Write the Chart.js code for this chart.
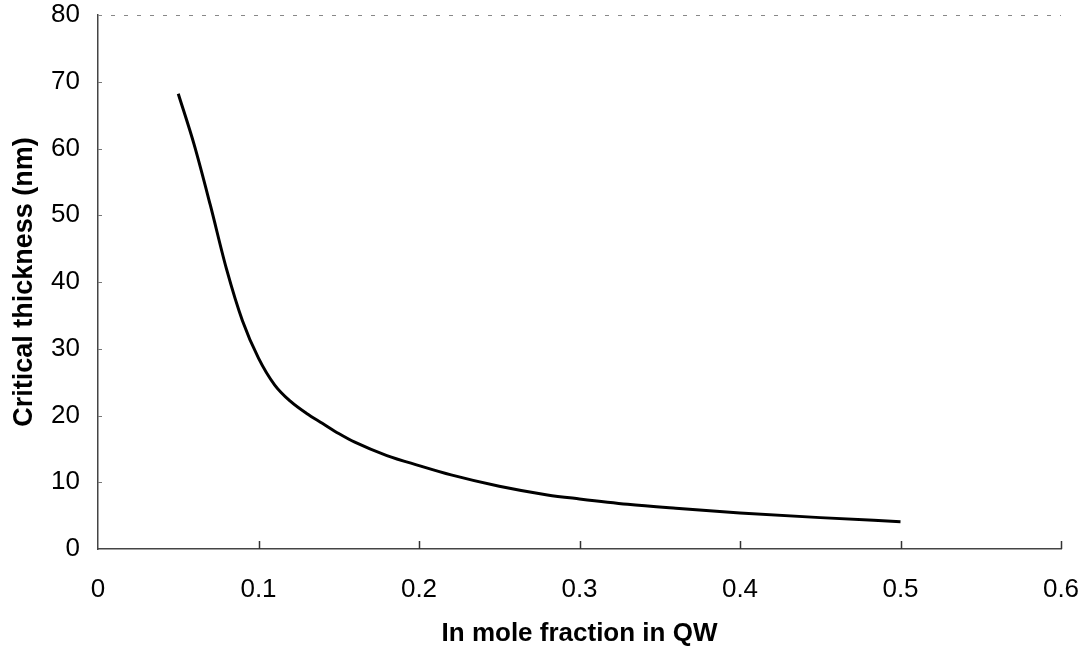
<!DOCTYPE html>
<html>
<head>
<meta charset="utf-8">
<script src="https://cdn.jsdelivr.net/npm/chart.js@4/dist/chart.umd.min.js"></script>
<style>
  html, body { margin: 0; padding: 0; background: #fff; }
  #wrap { width: 1086px; height: 647px; }
</style>
</head>
<body>
<div id="wrap"><canvas id="myChart"></canvas></div>
<script>
// In mole fraction vs critical thickness
const moleFraction = [0.05, 0.06, 0.07, 0.08, 0.09, 0.10, 0.11, 0.12, 0.13, 0.14, 0.15, 0.16, 0.18, 0.20, 0.22, 0.25, 0.28, 0.30, 0.33, 0.36, 0.40, 0.45, 0.50];
const thickness = [68.2, 60.5, 51.5, 42.0, 34.2, 28.6, 24.6, 22.1, 20.3, 18.8, 17.3, 16.0, 14.0, 12.5, 11.1, 9.4, 8.1, 7.5, 6.7, 6.1, 5.4, 4.7, 4.1];
const xTicks = [0, 0.1, 0.2, 0.3, 0.4, 0.5, 0.6];
const yTicks = [0, 10, 20, 30, 40, 50, 60, 70, 80];

const FONT = "'Liberation Sans', Arial, sans-serif";

// inward tick marks + the faint dashed top edge
const frame = {
  id: "frame",
  afterDatasetsDraw(chart) {
    const { ctx, scales, chartArea } = chart;
    const x = scales.x, y = scales.y;
    ctx.save();
    ctx.strokeStyle = "#333";
    ctx.lineWidth = 1.5;
    xTicks.slice(1).forEach((v) => {
      const px = Math.round(x.getPixelForValue(v)) + 0.5;
      ctx.beginPath();
      ctx.moveTo(px, y.bottom);
      ctx.lineTo(px, y.bottom - 8);
      ctx.stroke();
    });
    ctx.strokeStyle = "#777";
    ctx.lineWidth = 1;
    yTicks.slice(1).forEach((v) => {
      const py = Math.round(y.getPixelForValue(v)) + 0.5;
      ctx.beginPath();
      ctx.moveTo(x.left, py);
      ctx.lineTo(x.left + 4, py);
      ctx.stroke();
    });
    ctx.strokeStyle = "#888";
    ctx.setLineDash([4, 9]);
    ctx.beginPath();
    ctx.moveTo(chartArea.left, chartArea.top + 0.5);
    ctx.lineTo(chartArea.right, chartArea.top + 0.5);
    ctx.stroke();
    ctx.restore();
  },
};

const points = moleFraction.map((v, i) => ({ x: v, y: thickness[i] }));

new Chart(document.getElementById("myChart"), {
  type: "line",
  data: {
    datasets: [
      {
        data: points,
        borderColor: "#000",
        borderWidth: 3,
        pointRadius: 0,
        fill: false,
        cubicInterpolationMode: "monotone",
      },
    ],
  },
  options: {
    responsive: true,
    maintainAspectRatio: false,
    animation: false,
    layout: { padding: { top: 15, right: 25, left: 0, bottom: 0 } },
    plugins: { legend: { display: false }, tooltip: { enabled: false } },
    scales: {
      x: {
        type: "linear",
        min: 0,
        max: 0.6,
        afterBuildTicks: (s) => { s.ticks = xTicks.map((v) => ({ value: v })); },
        afterFit: (s) => { s.height = 98; s.paddingLeft = 0; s.paddingRight = 0; },
        grid: { display: false, drawTicks: false },
        border: { display: true, color: "#444", width: 1.5 },
        ticks: { color: "#000", padding: 25, font: { family: FONT, size: 26 }, maxRotation: 0 },
        title: {
          display: true,
          text: "In mole fraction in QW",
          color: "#000",
          font: { family: FONT, size: 26, weight: "bold", lineHeight: 1 },
          padding: { top: 4, bottom: 0 },
        },
      },
      y: {
        min: 0,
        max: 80,
        afterBuildTicks: (s) => { s.ticks = yTicks.map((v) => ({ value: v })); },
        afterFit: (s) => { s.width = 98; s.paddingTop = 0; s.paddingBottom = 0; },
        grid: { display: false, drawTicks: false },
        border: { display: true, color: "#444", width: 1.5 },
        ticks: { color: "#000", padding: 18, font: { family: FONT, size: 26 } },
        title: {
          display: true,
          text: "Critical thickness (nm)",
          color: "#000",
          font: { family: FONT, size: 27, weight: "bold" },
          padding: { top: 8, bottom: 4 },
        },
      },
    },
  },
  plugins: [frame],
});
</script>
</body>
</html>
